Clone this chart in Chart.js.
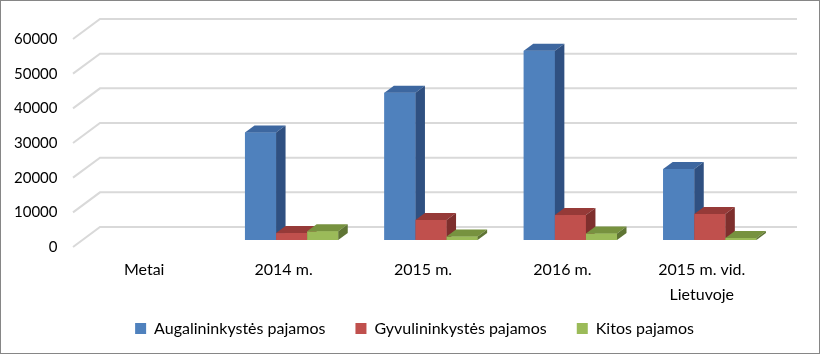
<!DOCTYPE html>
<html><head><meta charset="utf-8">
<script src="https://cdn.jsdelivr.net/npm/chart.js@4.4.1/dist/chart.umd.min.js"></script>
<style>html,body{margin:0;padding:0;background:#fff;} canvas{display:block;}</style>
</head><body>
<canvas id="c" width="820" height="355"></canvas>
<script>
const categories = ['Metai', '2014 m.', '2015 m.', '2016 m.', ['2015 m. vid.', 'Lietuvoje']];
const seriesNames = ['Augalininkystės pajamos', 'Gyvulininkystės pajamos', 'Kitos pajamos'];
const augalininkyste = [null, 31000, 42500, 54600, 20500];
const gyvulininkyste = [null, 2000, 5800, 7200, 7500];
const kitos = [null, 2500, 1000, 1900, 600];
const yTicks = [0, 10000, 20000, 30000, 40000, 50000, 60000];

const frontColors = ['#4f81bd', '#c0504d', '#9bbb59'];
const topColors = ['#3d67a0', '#963a38', '#77923f'];
const sideColors = ['#2f5081', '#7e2f2d', '#5f7534'];
const BAR_D = {dx: 9.5, dy: -7};
const WALL_FRONT = {dx: -9.5, dy: 7};
const WALL_BACK = {dx: 17.5, dy: -13};
const LEGEND_TOP = 290.5;

const threeD = {
  id: 'threeD',
  afterLayout(chart) {
    const lg = chart.legend;
    if (lg) { lg.top = LEGEND_TOP; lg.bottom = chart.height; lg.height = chart.height - LEGEND_TOP; }
  },
  beforeDraw(chart) {
    const ctx = chart.ctx;
    ctx.save(); ctx.fillStyle = '#fff'; ctx.fillRect(0, 0, chart.width, chart.height); ctx.restore();
  },
  beforeDatasetsDraw(chart) {
    const {ctx, chartArea: a, scales: {y}} = chart;
    ctx.save();
    ctx.strokeStyle = '#d9d9d9'; ctx.lineWidth = 2;
    y.ticks.forEach(t => {
      const py = y.getPixelForValue(t.value);
      ctx.beginPath();
      ctx.moveTo(a.left + WALL_FRONT.dx, py + WALL_FRONT.dy);
      ctx.lineTo(a.left + WALL_BACK.dx, py + WALL_BACK.dy);
      ctx.lineTo(a.right + WALL_BACK.dx, py + WALL_BACK.dy);
      ctx.stroke();
    });
    ctx.restore();
  },
  afterDatasetsDraw(chart) {
    const ctx = chart.ctx;
    ctx.save();
    chart.data.datasets.forEach((ds, i) => {
      const meta = chart.getDatasetMeta(i);
      if (meta.hidden) return;
      meta.data.forEach((bar, j) => {
        if (ds.data[j] == null) return;
        const {x, y, base, width} = bar.getProps(['x', 'y', 'base', 'width'], true);
        const L = x - width / 2, R = x + width / 2, dx = BAR_D.dx, dy = BAR_D.dy;
        ctx.fillStyle = frontColors[i];
        ctx.fillRect(L, y, width, base - y);
        ctx.fillStyle = topColors[i];
        ctx.beginPath();
        ctx.moveTo(L, y); ctx.lineTo(R, y); ctx.lineTo(R + dx, y + dy); ctx.lineTo(L + dx, y + dy);
        ctx.closePath(); ctx.fill();
        ctx.fillStyle = sideColors[i];
        ctx.beginPath();
        ctx.moveTo(R, y); ctx.lineTo(R + dx, y + dy); ctx.lineTo(R + dx, base + dy); ctx.lineTo(R, base);
        ctx.closePath(); ctx.fill();
      });
    });
    ctx.restore();
  },
  afterDraw(chart) {
    const ctx = chart.ctx;
    ctx.save();
    ctx.strokeStyle = '#868686'; ctx.lineWidth = 1;
    ctx.strokeRect(0.5, 0.5, 819, 353);
    ctx.restore();
  }
};

new Chart(document.getElementById('c'), {
  type: 'bar',
  data: {
    labels: categories,
    datasets: [
      {label: seriesNames[0], data: augalininkyste, backgroundColor: frontColors[0], yAxisID: 'y', xAxisID: 'x'},
      {label: seriesNames[1], data: gyvulininkyste, backgroundColor: frontColors[1], yAxisID: 'y', xAxisID: 'x'},
      {label: seriesNames[2], data: kitos, backgroundColor: frontColors[2], yAxisID: 'y', xAxisID: 'x'}
    ]
  },
  options: {
    responsive: false, animation: false, devicePixelRatio: 1,
    layout: {padding: {left: 10, right: 1, top: 32, bottom: 7.5}},
    datasets: {bar: {categoryPercentage: 0.669, barPercentage: 1}},
    plugins: {
      legend: {position: 'bottom', maxHeight: 40, labels: {boxWidth: 11, boxHeight: 11, padding: 30, color: '#000', font: {family: 'Lato', size: 16}}},
      tooltip: {enabled: false}
    },
    scales: {
      x: {
        grid: {display: false, drawTicks: false}, border: {display: false},
        ticks: {labelOffset: -8, padding: 17.5, color: '#000', font: {family: 'Lato', size: 16, lineHeight: 25 / 16}, maxRotation: 0, autoSkip: false},
        afterFit(s) { s.height = 67.5; s.paddingLeft = 0; s.paddingRight = 0; }
      },
      y: {
        position: 'left', min: 0, max: 60000,
        afterBuildTicks(s) { s.ticks = yTicks.map(v => ({value: v})); },
        grid: {display: false, drawTicks: false}, border: {display: false},
        ticks: {labelOffset: 7, padding: 25, color: '#000', font: {family: 'Lato', size: 15}, callback: (v) => String(v)},
        afterFit(s) { s.width = 72.5; s.paddingTop = 0; s.paddingBottom = 0; }
      },
      yRight: {
        type: 'linear', position: 'right', display: true,
        grid: {display: false, drawTicks: false}, border: {display: false},
        ticks: {display: false},
        afterFit(s) { s.width = 39.5; s.paddingTop = 0; s.paddingBottom = 0; }
      }
    }
  },
  plugins: [threeD]
});
</script>
</body></html>
